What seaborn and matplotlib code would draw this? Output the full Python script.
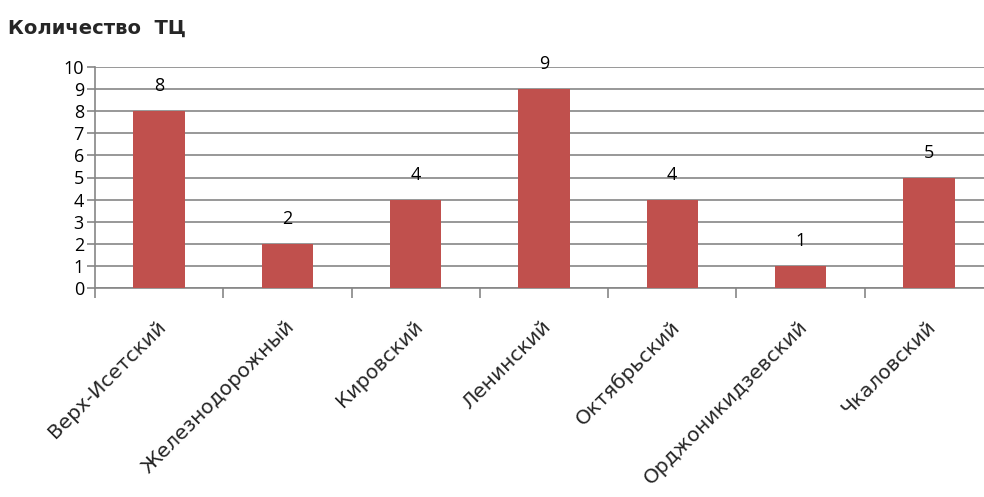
import matplotlib
matplotlib.use("Agg")
import matplotlib.pyplot as plt
import seaborn as sns
import pandas as pd

districts = ["Верх-Исетский", "Железнодорожный", "Кировский", "Ленинский",
             "Октябрьский", "Орджоникидзевский", "Чкаловский"]
counts = [8, 2, 4, 9, 4, 1, 5]
yticks = list(range(0, 11))
title = "Количество  ТЦ"

sns.set_style("white")
plt.rcParams['font.family'] = ['Open Sans', 'DejaVu Sans']

df = pd.DataFrame({"district": districts, "count": counts})

fig = plt.figure(figsize=(9.84, 4.97), dpi=100)
ax = fig.add_axes([95/984, 1 - 288/497, 898/984, 221/497])

sns.barplot(data=df, x="district", y="count", color="#C0504D", width=0.4,
            saturation=1, linewidth=0, ax=ax, zorder=3)

ax.set_ylim(0, 10)
ax.set_xlim(-0.5, 6.5)
ax.set_yticks(yticks)
ax.set_yticklabels([str(v) for v in yticks], fontsize=13, color="#000000")
ax.yaxis.grid(True, color="#868686", linewidth=1.2, zorder=0)
ax.set_axisbelow(True)
ax.tick_params(axis="y", length=6, width=1.2, color="#868686", pad=2, left=True)

# category boundary ticks
ax.set_xticks([i + 0.5 for i in range(-1, 7)], minor=False)
ax.set_xticklabels([])
ax.set_xticks([i - 0.02 for i in range(len(districts))], minor=True)
ax.set_xticklabels(districts, minor=True, rotation=45, ha="right",
                   rotation_mode="anchor", fontsize=14.5, family="DejaVu Sans")
ax.tick_params(axis="x", which="major", length=7, width=1.2, color="#868686", bottom=True)
ax.tick_params(axis="x", which="minor", length=0, pad=21)

for side in ["top", "right"]:
    ax.spines[side].set_visible(False)
for side in ["left", "bottom"]:
    ax.spines[side].set_color("#868686")
    ax.spines[side].set_linewidth(1.2)

for i, v in enumerate(counts):
    ax.annotate(str(v), (i, v), xytext=(0, 18), textcoords="offset points",
                ha="center", va="center", fontsize=13, color="#000000")

ax.set_xlabel("")
ax.set_ylabel("")
fig.text(8/984, 1 - 28/497, title, fontsize=14, fontweight="bold",
         family="DejaVu Sans", va="center", ha="left")

fig.savefig("out.png", dpi=100)
